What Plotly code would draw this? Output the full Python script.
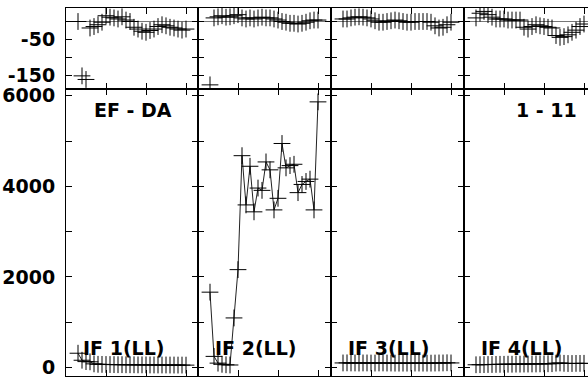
import plotly.graph_objects as go

# ---- data ----
times = [1.2 + 0.4 * i for i in range(28)]  # arbitrary time units (panel x axis)

if_labels = ["IF 1(LL)", "IF 2(LL)", "IF 3(LL)", "IF 4(LL)"]

amp_if1 = [315, 160, 130, 125, 80, 70, 68, 66, 65, 64, 62, 62, 60, 60, 60, 58,
           58, 58, 56, 56, 55, 55, 55, 54, 54, 53, 53, 52]
amp_if2 = [1663, 245, 96, 70, 60, 55, 1094, 2160, 4676, 3589, 4442, 3436, 3961, 3910,
           4538, 4363, 3479, 3735, 4945, 4407, 4457, 4486, 3860, 4041, 4107, 4158, 3479, 5864]
amp_if3 = [100, 102, 100, 100, 98, 100, 100, 98, 98, 100, 100, 98, 98, 96, 96, 96,
           96, 96, 98, 98, 96, 96, 96, 98, 100, 100, 104, 100]
amp_if4 = [60, 62, 64, 66, 66, 68, 70, 70, 72, 72, 74, 74, 76, 76, 78, 78,
           80, 80, 82, 84, 96, 100, 92, 88, 88, 90, 90, 92]

ph_if1 = [0, -151, -161, -18, -14, -9, -2, 16, 12, 10, 7, 13, 4, 0, -16, -21,
          -27, -30, -25, -21, -14, -9, -12, -16, -18, -21, -24, -21]
ph_if2 = [-176, 10, 13, 16, 12, 13, 16, 19, 10, 7, 10, 7, 10, 12, 10, 10,
          7, 4, 0, -2, -5, -5, -7, -5, -2, 2, 4, 4]
ph_if3 = [7, 7, 10, 12, 13, 12, 10, 7, 2, -2, -2, 0, 2, 4, 2, 0,
          -2, -2, 0, 0, 0, 0, -2, -12, -18, -16, -9, -2]
ph_if4 = [10, 23, 28, 19, 12, 7, 7, 7, 4, 4, 4, 4, -16, -21, -14, -9,
          -12, -14, -16, -18, -39, -44, -42, -37, -30, -24, -14, -7]

amps = [amp_if1, amp_if2, amp_if3, amp_if4]
phases = [ph_if1, ph_if2, ph_if3, ph_if4]

amp_ticks = [0, 1000, 2000, 3000, 4000, 5000, 6000]
amp_ticktext = ["0", "", "2000", "", "4000", "", "6000"]
ph_ticks = [-150, -100, -50, 0]
ph_ticktext = ["-150", "", "-50", ""]
x_ticks = [4, 8, 12]

baseline_label = "EF - DA"
scan_label = "1 - 11"

# ---- layout geometry ----
W, H = 588, 379
L, T, B, R = 66, 8, 3, 0
edges_px = [66, 198, 331, 464, 588]
plot_w = W - L - R
plot_h = H - T - B
xdom = [((edges_px[i] - L) / plot_w, (edges_px[i + 1] - L) / plot_w) for i in range(4)]
xranges = [[0, 13.2], [0, 13.3], [0, 13.3], [0, (588 - 464) / 10.0]]
split = (376 - 89) / plot_h

FONT = dict(family="DejaVu Sans", size=19, color="black", weight="bold")

fig = go.Figure()
layout = dict(
    template="none",
    width=W, height=H,
    margin=dict(l=L, r=R, t=T, b=B, pad=0, autoexpand=False),
    paper_bgcolor="white", plot_bgcolor="white",
    showlegend=False,
)

marker = dict(symbol="cross-thin", size=12, color="black", line=dict(width=1.0, color="black"))

for i in range(4):
    ax_a = 2 * i + 1
    ax_p = 2 * i + 2
    sa = "" if ax_a == 1 else str(ax_a)
    sp = str(ax_p)
    # amplitude
    fig.add_trace(go.Scatter(x=times, y=amps[i], mode="lines+markers",
                             line=dict(color="#222", width=1), marker=marker,
                             xaxis="x" + sa, yaxis="y" + sa, cliponaxis=True))
    # phase
    fig.add_trace(go.Scatter(x=times, y=phases[i], mode="markers", marker=marker,
                             xaxis="x" + sp, yaxis="y" + sp, cliponaxis=True))
    common_x = dict(range=xranges[i], showgrid=False, zeroline=False, showline=True,
                    linecolor="black", linewidth=1, mirror="allticks", ticks="inside",
                    ticklen=6, tickcolor="black", tickvals=x_ticks, showticklabels=False,
                    domain=list(xdom[i]), fixedrange=True, automargin=False)
    mirror_y = "allticks" if i < 3 else False
    layout["xaxis" + sa] = dict(common_x, anchor="y" + sa)
    layout["xaxis" + sp] = dict(common_x, anchor="y" + sp)
    layout["yaxis" + sa] = dict(range=[-188, 6148], domain=[0, split], anchor="x" + sa,
                                showgrid=False, zeroline=False, showline=True,
                                linecolor="black", linewidth=1, mirror=mirror_y,
                                ticks="inside", ticklen=6, tickcolor="black",
                                tickvals=amp_ticks, ticktext=amp_ticktext,
                                showticklabels=(i == 0), tickfont=FONT,
                                ticklabelstandoff=6, fixedrange=True, automargin=False)
    layout["yaxis" + sp] = dict(range=[-187.5, 37.5], domain=[split, 1], anchor="x" + sp,
                                showgrid=False, zeroline=True, zerolinecolor="#777",
                                zerolinewidth=1, showline=True,
                                linecolor="black", linewidth=1, mirror=mirror_y,
                                ticks="inside", ticklen=6, tickcolor="black",
                                tickvals=ph_ticks, ticktext=ph_ticktext,
                                showticklabels=(i == 0), tickfont=FONT,
                                ticklabelstandoff=6, fixedrange=True, automargin=False)

annotations = []
for i in range(4):
    sa = "" if i == 0 else str(2 * i + 1)
    annotations.append(dict(text=if_labels[i], x=1.5, xref="x" + sa, xanchor="left",
                            y=(376 - 348) / plot_h, yref="paper", yanchor="middle",
                            showarrow=False, font=FONT))
annotations.append(dict(text=baseline_label, x=6.7, xref="x", xanchor="center",
                        y=(376 - 110) / plot_h, yref="paper", yanchor="middle",
                        showarrow=False, font=FONT))
annotations.append(dict(text=scan_label, x=8.2, xref="x7", xanchor="center",
                        y=(376 - 110) / plot_h, yref="paper", yanchor="middle",
                        showarrow=False, font=FONT))
layout["annotations"] = annotations

fig.update_layout(**layout)
fig.write_html("out.html", config={"displayModeBar": False},
               post_script="document.body.style.margin='0px';document.body.style.overflow='hidden';")
